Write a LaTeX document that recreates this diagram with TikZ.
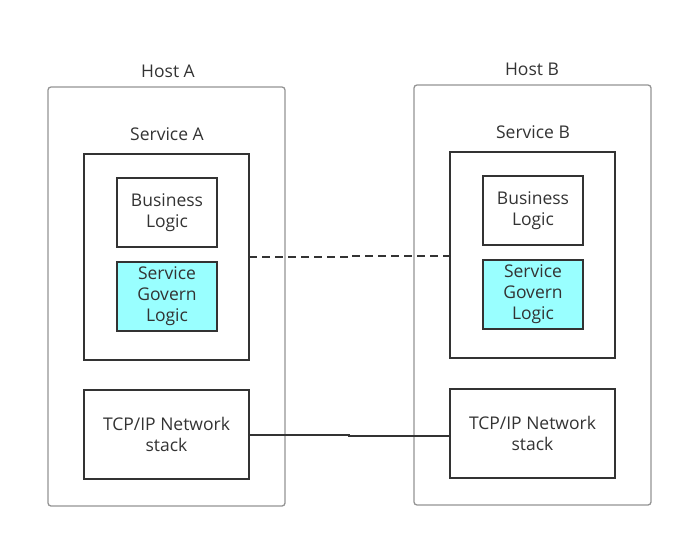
\documentclass[tikz,border=0pt]{standalone}
\usepackage{fontspec}
\setmainfont{Open Sans}
\definecolor{govcyan}{RGB}{153,255,255}
\definecolor{ink}{RGB}{51,51,51}
\begin{document}
\begin{tikzpicture}[x=1pt,y=-1pt,
  hostbox/.style={draw=black!42,line width=1.3pt,rounded corners=3pt},
  inbox/.style={draw=ink,line width=1.6pt},
  cyanbox/.style={inbox,fill=govcyan},
  lbl/.style={font=\fontsize{17.5}{21}\selectfont,text=ink,align=center,inner sep=0pt},
  link/.style={draw=ink,line width=1.3pt}]
\useasboundingbox (0,0) rectangle (683,538);
% hosts
\draw[hostbox] (48,87) rectangle (285,506);
\draw[hostbox] (414,85) rectangle (651,505);
\node[lbl] (hA) at (168,71) {Host A};
\node[lbl] (hB) at (532,69) {Host B};
% services
\draw[inbox] (84,154) rectangle (249,360);
\coordinate (sAe) at (249,257);
\draw[inbox] (450,152) rectangle (615,358);
\coordinate (sBw) at (450,256);
\node[lbl] (svA) at (167,134) {Service A};
\node[lbl] (svB) at (533,132) {Service B};
% business logic
\draw[inbox] (117,178) rectangle (217,247);
\node[lbl] (bA) at (167,212.5) {Business\\Logic};
\draw[inbox] (483,176) rectangle (583,245);
\node[lbl] (bB) at (533,210.5) {Business\\Logic};
% govern
\draw[cyanbox] (117,262) rectangle (217,331);
\node[lbl] (gA) at (167,296.5) {Service\\Govern\\Logic};
\draw[cyanbox] (483,260) rectangle (583,329);
\node[lbl] (gB) at (533,294.5) {Service\\Govern\\Logic};
% tcp
\draw[inbox] (84,390) rectangle (249,479);
\coordinate (tAe) at (249,435);
\draw[inbox] (450,389) rectangle (615,478);
\coordinate (tBw) at (450,436);
\node[lbl] (tA) at (166.5,434.5) {TCP/IP Network\\stack};
\node[lbl] (tB) at (532.5,433.5) {TCP/IP Network\\stack};
% connectors
\coordinate (mid1) at (349,257);
\coordinate (mid2) at (349,435);
\draw[link,dash pattern=on 8pt off 5pt] (sAe) -- (mid1) |- (sBw);
\draw[link] (tAe) -- (mid2) |- (tBw);
\end{tikzpicture}
\end{document}
